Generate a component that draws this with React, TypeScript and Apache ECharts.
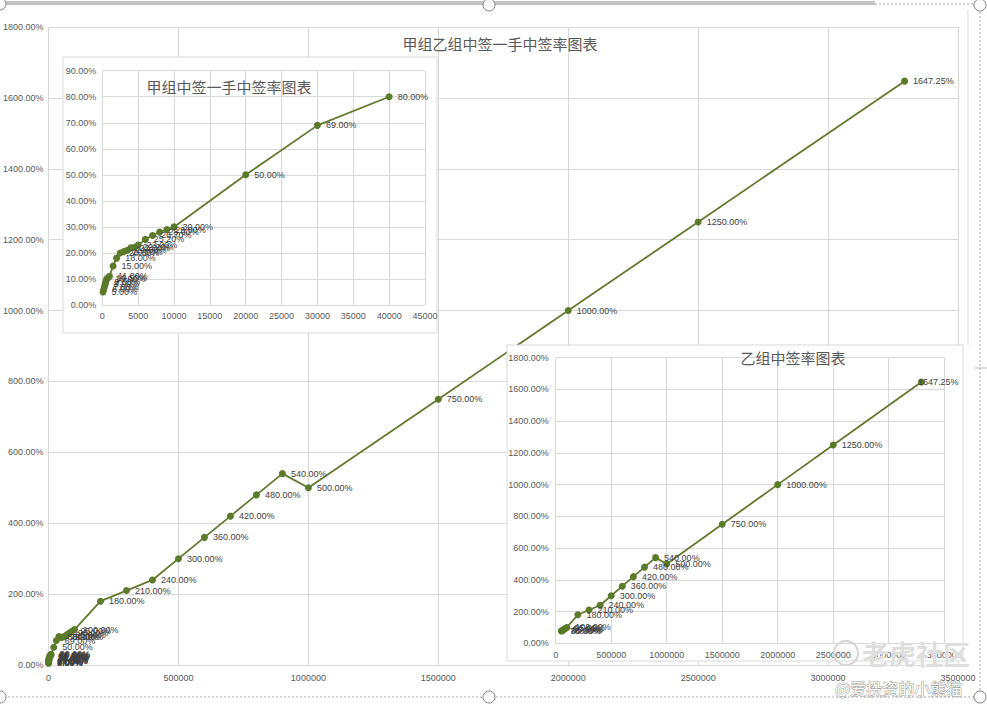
import React, { useEffect, useRef } from "react";
import * as echarts from "echarts";

// 甲组: 申购金额 / 一手中签率(%)
const jiaAmount = [100, 200, 300, 400, 500, 600, 800, 1000, 1500, 2000, 2500, 3000, 3500, 4000, 4500, 5000, 6000, 7000, 8000, 9000, 10000, 20000, 30000, 40000];
const jiaRate = [5, 6, 7, 8, 9, 10, 10.5, 11, 15, 18, 20, 20.5, 21, 22, 22.2, 23, 25.2, 26.7, 28, 29, 30, 50, 69, 80];

// 乙组: 申购金额 / 中签率(%)
const yiAmount = [50000, 60000, 70000, 80000, 90000, 100000, 200000, 300000, 400000, 500000, 600000, 700000, 800000, 900000, 1000000, 1500000, 2000000, 2500000, 3294500];
const yiRate = [78, 80, 85, 90, 95, 100, 180, 210, 240, 300, 360, 420, 480, 540, 500, 750, 1000, 1250, 1647.25];

const mainTitle = "甲组乙组中签一手中签率图表";
const jiaTitle = "甲组中签一手中签率图表";
const yiTitle = "乙组中签率图表";

const pct = (v: number) => Number(v).toFixed(2) + "%";
const num = (v: number) => String(v);

const NUM_FONT = "'Liberation Sans', 'DejaVu Sans', sans-serif";
const CJK_FONT = "'Noto Sans CJK SC', sans-serif";
const GRID = "#d9d9d9";
const AXIS_TXT = "#595959";
const LINE = "#627a2e";
const MARK = "#5b7a2a";

function makeAxes(gi: number, xmax: number, xint: number, ymax: number, yint: number, xm: number, ym: number, z: number) {
  const x = {
    type: "value", gridIndex: gi, min: 0, max: xmax, interval: xint, z,
    axisLine: { show: true, lineStyle: { color: GRID, width: 1 } },
    axisTick: { show: false },
    splitLine: { show: true, lineStyle: { color: GRID, width: 1 } },
    axisLabel: { formatter: num, color: AXIS_TXT, fontSize: 9, fontFamily: NUM_FONT, margin: xm, hideOverlap: false, showMaxLabel: true, showMinLabel: true },
  };
  const y = {
    type: "value", gridIndex: gi, min: 0, max: ymax, interval: yint, z,
    axisLine: { show: false },
    axisTick: { show: false },
    splitLine: { show: true, lineStyle: { color: GRID, width: 1 } },
    axisLabel: { formatter: pct, color: AXIS_TXT, fontSize: 9, fontFamily: NUM_FONT, margin: ym },
  };
  return { x, y };
}

function makeSeries(xi: number, xs: number[], ys: number[], z: number, sym: number, lastDistance?: number) {
  return {
    type: "line", xAxisIndex: xi, yAxisIndex: xi, z,
    data: xs.map((v, i) => {
      const item: any = { value: [v, ys[i]] };
      if (lastDistance !== undefined && i === xs.length - 1) item.label = { show: true, position: "right", distance: lastDistance };
      return item;
    }),
    symbol: "circle", symbolSize: sym,
    itemStyle: { color: MARK, borderWidth: 0 },
    lineStyle: { color: LINE, width: 1.8 },
    label: {
      show: true, position: "right", distance: 5,
      formatter: (p: any) => pct(p.value[1]),
      color: "#404040", fontSize: 9, fontFamily: NUM_FONT,
    },
    labelLayout: { hideOverlap: false },
    emphasis: { disabled: true },
  };
}

export default function App() {
  const ref = useRef<HTMLDivElement>(null);
  useEffect(() => {
    if (!ref.current) return;
    const chart = echarts.init(ref.current, undefined, { renderer: "svg" });

    const allPairs = jiaAmount.map((v, i) => [v, jiaRate[i]]).concat(yiAmount.map((v, i) => [v, yiRate[i]]));
    const mainX = allPairs.map((p) => p[0]);
    const mainY = allPairs.map((p) => p[1]);

    const a0 = makeAxes(0, 3500000, 500000, 1800, 200, 8, 5, 0);
    const a1 = makeAxes(1, 45000, 5000, 90, 10, 6, 6, 10);
    const a2 = makeAxes(2, 3500000, 500000, 1800, 200, 7, 7, 10);

    const handle = (x: number, y: number) => ({
      type: "circle", z: 50, shape: { cx: x, cy: y, r: 6 },
      style: { fill: "#ffffff", stroke: "#808080", lineWidth: 1 },
    });

    chart.setOption({
      animation: false,
      backgroundColor: "#ffffff",
      grid: [
        { left: 48, top: 27, width: 910, height: 638 },
        { left: 102.3, top: 70.7, width: 322.7, height: 234.3 },
        { left: 555.7, top: 357.7, width: 388.5, height: 285.6 },
      ],
      xAxis: [a0.x, a1.x, a2.x],
      yAxis: [a0.y, a1.y, a2.y],
      series: [
        makeSeries(0, mainX, mainY, 2, 7),
        makeSeries(1, jiaAmount, jiaRate, 12, 7),
        makeSeries(2, yiAmount, yiRate, 12, 7, -7),
      ],
      graphic: [
        // top bar and selection frame
        { type: "rect", z: 40, shape: { x: 0, y: 1, width: 875, height: 4 }, style: { fill: "#c4c4c4" } },
        { type: "line", z: 40, shape: { x1: 875, y1: 4, x2: 980, y2: 4 }, style: { stroke: "#a8a8a8", lineWidth: 1, lineDash: [2, 2] } },
        { type: "line", z: 40, shape: { x1: 0, y1: 697, x2: 980, y2: 697 }, style: { stroke: "#a8a8a8", lineWidth: 1, lineDash: [2, 2] } },
        { type: "line", z: 40, shape: { x1: 980, y1: 4, x2: 980, y2: 697 }, style: { stroke: "#a8a8a8", lineWidth: 1, lineDash: [2, 2] } },
        { type: "line", z: 40, shape: { x1: 968, y1: 10, x2: 968, y2: 345 }, style: { stroke: GRID, lineWidth: 1 } },
        { type: "line", z: 40, shape: { x1: 975, y1: 368, x2: 987, y2: 368 }, style: { stroke: "#bdbdbd", lineWidth: 1 } },
        handle(0, 4), handle(489, 5), handle(980, 5),
        handle(0, 697), handle(489, 697), handle(980, 697),
        // main title
        { type: "text", z: 8, x: 500, y: 43, style: { text: mainTitle, align: "center", verticalAlign: "middle", fontSize: 15, fontFamily: CJK_FONT, fill: AXIS_TXT } },
        // inset backgrounds
        { type: "rect", z: 5, shape: { x: 63, y: 57, width: 374, height: 276 }, style: { fill: "#ffffff", stroke: GRID, lineWidth: 1 } },
        { type: "rect", z: 5, shape: { x: 507, y: 345, width: 456, height: 316 }, style: { fill: "#ffffff", stroke: GRID, lineWidth: 1 } },
        // inset titles
        { type: "text", z: 14, x: 229, y: 86, style: { text: jiaTitle, align: "center", verticalAlign: "middle", fontSize: 15, fontFamily: CJK_FONT, fill: AXIS_TXT } },
        { type: "text", z: 14, x: 793, y: 357, style: { text: yiTitle, align: "center", verticalAlign: "middle", fontSize: 15, fontFamily: CJK_FONT, fill: AXIS_TXT } },
        // watermark
        { type: "circle", z: 30, shape: { cx: 846, cy: 653, r: 12 }, style: { fill: "none", stroke: "#d6d6d6", lineWidth: 2 } },
        { type: "text", z: 30, x: 862, y: 653, style: { text: "老虎社区", verticalAlign: "middle", fontSize: 27, fontWeight: "bold", fontFamily: CJK_FONT, fill: "#dedede", stroke: "#ffffff", lineWidth: 0.5 } },
        { type: "text", z: 30, x: 835, y: 688, style: { text: "@爱投资的小熊猫", verticalAlign: "middle", fontSize: 16, fontFamily: CJK_FONT, fill: "#ffffff", stroke: "#9a9a9a", lineWidth: 1 } },
      ],
    });
    return () => chart.dispose();
  }, []);
  return <div ref={ref} style={{ position: "fixed", left: 0, top: 0, width: 987, height: 710, background: "#fff" }} />;
}
